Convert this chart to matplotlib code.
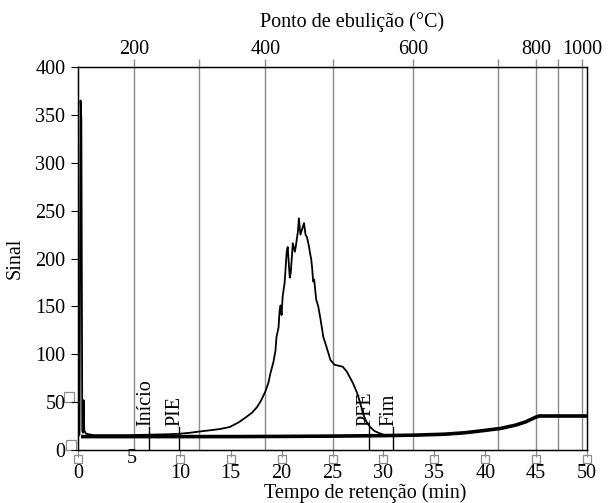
import matplotlib
matplotlib.use("Agg")
import matplotlib.pyplot as plt

plt.rcParams['font.family'] = ['Liberation Serif', 'DejaVu Serif']

# Sample chromatogram (retention time min, signal)
sample_t = [0.0, 0.15, 0.25, 0.33, 0.42, 0.5, 0.55, 0.62, 0.8, 1.5, 3.0, 5.0, 7.0, 9.0, 10.0,
            11.0, 11.7, 12.5, 13.3, 14.0, 14.9, 15.8, 16.6, 17.1, 17.6, 18.0, 18.4, 18.7, 18.9,
            19.2, 19.4, 19.5, 19.7, 19.8, 19.9, 20.0, 20.1, 20.3, 20.5, 20.6, 20.8, 20.9, 21.1,
            21.3, 21.4, 21.6, 21.7, 21.85, 22.0, 22.2, 22.35, 22.5, 22.7, 22.8, 22.9, 23.0, 23.1,
            23.2, 23.4, 23.6, 23.8, 24.1, 24.4, 24.8, 25.2, 25.6, 26.0, 26.4, 26.7, 27.0, 27.4,
            27.7, 28.0, 28.3, 28.7, 29.1, 29.5, 30.0, 30.5]
sample_v = [14, 16, 365, 345, 20, 18, 52, 20, 17, 15.5, 15.5, 15.5, 16, 16.5, 17,
            18, 19, 20, 21, 22, 24, 29, 35, 39, 45, 52, 61, 70, 80,
            92, 104, 118, 128, 145, 151, 141, 160, 175, 207, 212, 180, 185, 216,
            207, 213, 228, 242, 225, 230, 237, 225, 222, 212, 205, 200, 190, 176,
            178, 157, 150, 138, 118, 108, 94, 89, 88, 87, 82, 76, 70, 60,
            50, 38, 30, 24, 20, 18, 16, 15.5]

# Blank / baseline run
blank_t = [0.3, 0.4, 5, 10, 15, 20, 25, 30, 33, 36, 38, 40, 41.5, 43, 44, 44.9, 45.3, 50]
blank_v = [14, 14, 14, 14, 14, 14.2, 14.5, 15, 15.5, 16.5, 18, 20.5, 22.5, 26, 29.5, 34, 35.5, 35.5]

# Boiling point grid (°C) and corresponding retention times
bp_labels = [200, 300, 400, 500, 600, 700, 800, 900, 1000]
bp_times = [5.5, 11.9, 18.4, 25.0, 32.9, 41.3, 45.0, 47.2, 49.5]
bp_shown = [200, 400, 600, 800, 1000]

# Markers
mark_names = ['Início', 'PIE', 'PFE', 'Fim']
mark_times = [7.0, 9.9, 28.6, 30.9]

x_ticks = [0, 10, 15, 20, 25, 30, 35, 40, 45, 50]
y_ticks = [0, 50, 100, 150, 200, 250, 300, 350, 400]

FS = 14.5
fig = plt.figure(figsize=(6.09, 5.03), dpi=100)
ax = fig.add_axes([78/609, 1-450/503, (587-78)/609, (450-67)/503])
ax.set_xlim(0, 50)
ax.set_ylim(0, 400)

for t in bp_times:
    ax.axvline(t, color='#8c8c8c', lw=1.0, zorder=1)

ax.plot(blank_t, blank_v, color='black', lw=2.6, zorder=3, solid_capstyle='butt')
ax.plot(sample_t, sample_v, color='black', lw=1.3, zorder=4)

for name, t in zip(mark_names, mark_times):
    ax.plot([t, t], [0, 24], color='black', lw=1.0, zorder=5)
    ax.text(t - 0.35, 25, name, rotation=90, ha='center', va='bottom', fontsize=FS, zorder=6)

ax.set_xticks(x_ticks)
ax.set_xticklabels([str(v) for v in x_ticks], fontsize=FS)
ax.set_yticks(y_ticks)
ax.set_yticklabels([str(v) for v in y_ticks], fontsize=FS)
ax.tick_params(axis='x', direction='out', length=5, color='#8c8c8c', pad=5)
ax.tick_params(axis='y', direction='out', length=5, color='black', pad=4)
for s in ax.spines.values():
    s.set_linewidth(1.0)
    s.set_color('black')

# small tick boxes
ax.plot(x_ticks, [-9.5] * len(x_ticks), ls='none', marker='s', ms=6, mfc='white',
        mec='#8c8c8c', mew=0.9, clip_on=False, zorder=0)
ax.plot([-0.9, -0.7], [55, 5], ls='none', marker='s', ms=7, mfc='none',
        mec='#8c8c8c', mew=0.9, clip_on=False, zorder=0)
ax.text(5.3, -8.5, '5', fontsize=FS, ha='center', va='center')

ax2 = ax.twiny()
ax2.set_xlim(0, 50)
ax2.set_xticks(bp_times)
ax2.set_xticklabels([str(b) if b in bp_shown else '' for b in bp_labels], fontsize=FS)
ax2.tick_params(axis='x', direction='out', length=6, color='#8c8c8c', width=1.0, pad=0)

ax.set_ylabel('Sinal', fontsize=FS, labelpad=8)
fig.text(352/609, 1-22/503, 'Ponto de ebulição (°C)', fontsize=FS, ha='center', va='center')
fig.text(365/609, 1-493/503, 'Tempo de retenção (min)', fontsize=FS, ha='center', va='center')

fig.savefig('out.png', dpi=100)
